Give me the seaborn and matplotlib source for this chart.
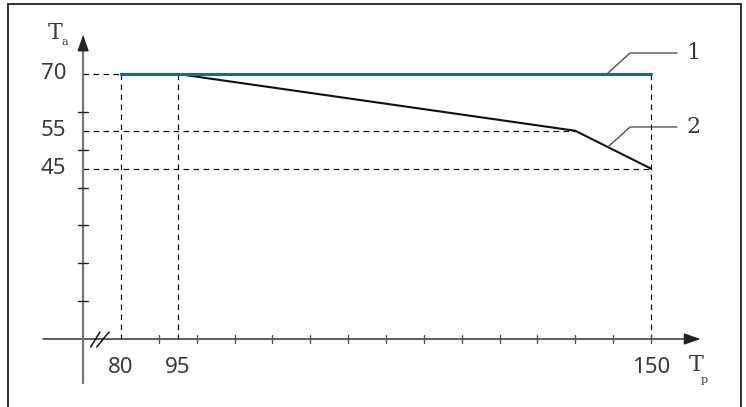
import numpy as np
import pandas as pd
import seaborn as sns
import matplotlib.pyplot as plt
from matplotlib.patches import Rectangle

# derating curve (process temperature Tp -> ambient temperature Ta)
tp_values = [80, 95, 140, 150]
tp_drawn = [80, 87.5, 140, 150]   # schematic x positions as drawn in the figure
ta_line1 = [70, 70]
ta_line2 = [70, 70, 55, 45]
y_marks = [70, 55, 45]
x_marks = [80, 95, 150]
x_mark_pos = [80, 87.5, 150]
y_ticks = [10, 20, 30, 40, 50, 60]
x_ticks = list(range(85, 151, 5))

sns.set_style("white")
plt.rcParams['font.family'] = ['Noto Sans', 'DejaVu Sans']

fig = plt.figure(figsize=(7.46, 4.07), dpi=100)
ax = fig.add_axes([0, 0, 1, 1])
ax.set_xlim(64.02, 162.55)
ax.set_ylim(-17.96, 89.54)
ax.axis("off")

# pixel helpers for the small marks
px = 7.571   # px per unit on x
py = 3.786   # px per unit on y


def xpix(p):
    return 80 + (p - 121) / px


def ypix(p):
    return (339 - p) / py


txt = "#3a3a3a"
dash = (0, (4.5, 3.5))

# frame
fig.patches.append(Rectangle((8 / 746, -0.02), 733 / 746, 1 - 4 / 407 + 0.02,
                             transform=fig.transFigure, fill=False,
                             edgecolor="#333333", lw=1.4))

# dashed guides
ax.plot([75, 80], [70, 70], color="#111111", lw=0.9, ls=dash)
ax.plot([75, 140], [55, 55], color="#111111", lw=0.9, ls=dash)
ax.plot([75, 150], [45, 45], color="#111111", lw=0.9, ls=dash)
for xv in x_mark_pos:
    ax.plot([xv, xv], [70, 0], color="#111111", lw=0.9, ls=dash)

# axes with arrows
ax.plot([69.7, 155], [0, 0], color="#444444", lw=1.2)
ax.annotate("", xy=(156.9, 0), xytext=(154.5, 0),
            arrowprops=dict(arrowstyle="-|>,head_length=1.0,head_width=0.35",
                            color="#222222", lw=1))
ax.plot([75, 75], [-11.6, 78], color="#777777", lw=1.6)
ax.annotate("", xy=(75, 81.1), xytext=(75, 77.5),
            arrowprops=dict(arrowstyle="-|>,head_length=1.0,head_width=0.35",
                            color="#222222", lw=1))

# ticks
for yv in y_ticks:
    ax.plot([75 - 5 / px, 75 + 5 / px], [yv, yv], color="#222222", lw=1)
for xv in x_ticks:
    ax.plot([xv, xv], [-4 / py, 4 / py], color="#555555", lw=1)

# axis break marks
for x0, x1 in [(90.7, 100), (96.7, 109)]:
    ax.plot([xpix(x0), xpix(x1)], [ypix(347), ypix(332)], color="#111111", lw=1.1)

# curves
df2 = pd.DataFrame({"tp": tp_drawn, "ta": ta_line2})
sns.lineplot(data=df2, x="tp", y="ta", ax=ax, color="#111111", lw=1.5,
             estimator=None, sort=False)
df1 = pd.DataFrame({"tp": [tp_drawn[0], tp_drawn[-1]], "ta": ta_line1})
sns.lineplot(data=df1, x="tp", y="ta", ax=ax, color="#1b6a89", lw=2.2,
             estimator=None, sort=False)

# tick labels
for yv in y_marks:
    ax.text(72.8, yv, str(yv), ha="right", va="center", fontsize=16, color=txt)
for lab, xv in zip(x_marks, x_mark_pos):
    ax.text(xv, -7.5, str(lab), ha="center", va="center", fontsize=16, color=txt)

# axis titles
serif = ["DejaVu Serif"]
ax.text(xpix(55), ypix(33), "T", ha="center", va="center", fontsize=16, color=txt, family=serif)
ax.text(xpix(65), ypix(42), "a", ha="center", va="center", fontsize=8, color=txt, family=serif)
ax.text(xpix(696), ypix(365), "T", ha="center", va="center", fontsize=16, color=txt, family=serif)
ax.text(xpix(704), ypix(380), "p", ha="center", va="center", fontsize=8, color=txt, family=serif)

# callouts
for (y0, y1), lab in zip([(73, 53), (147, 127)], ["1", "2"]):
    ax.plot([xpix(608), xpix(630), xpix(677)], [ypix(y0), ypix(y1), ypix(y1)],
            color="#555555", lw=1)
    ax.text(xpix(693), ypix(y1), lab, ha="center", va="center", fontsize=16,
            color=txt, family=serif)

fig.savefig("out.png", dpi=100)
